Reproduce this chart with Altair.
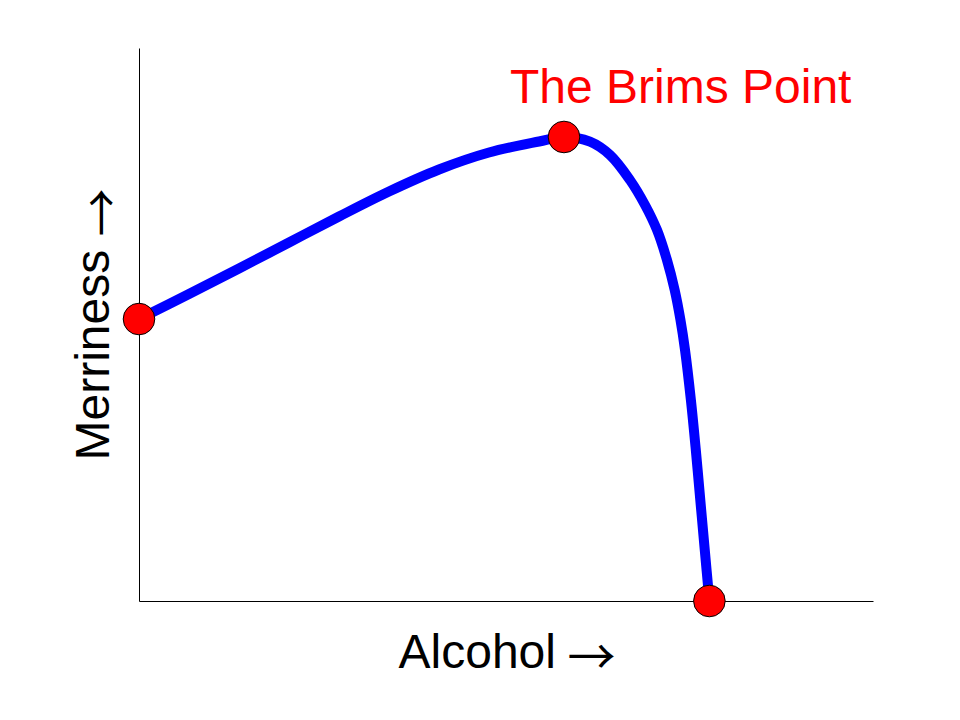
import altair as alt
import pandas as pd

# Curve
curve_x = [0, 6.81, 13.62, 20.44, 27.25, 34.06, 40.87, 47.68, 54.50, 57.90,
           61.44, 64.17, 66.89, 68.94, 70.57, 71.93, 72.98, 73.77, 74.39,
           75.19, 75.86, 76.47, 77.08, 77.71]
curve_y = [50.99, 55.52, 60.13, 64.83, 69.53, 74.05, 78.03, 81.10, 83.09, 83.91,
           83.06, 80.65, 76.13, 71.61, 67.09, 61.66, 56.24, 50.81, 45.39,
           36.35, 27.31, 18.26, 9.22, 0.0]

# Highlighted points
pt_x = [0, 57.90, 77.71]
pt_y = [50.99, 83.91, 0.0]
pt_label = ["", "The Brims Point", ""]

x_word, y_word, arrow = "Alcohol", "Merriness", "→"

curve = pd.DataFrame({"x": curve_x, "y": curve_y})
pts = pd.DataFrame({"x": pt_x, "y": pt_y, "label": pt_label})

FONT = "Liberation Sans, Arial, sans-serif"
AFONT = "Noto Sans CJK SC"
FS = 48

xs = alt.Scale(domain=[0, 100], nice=False, zero=False)
ys = alt.Scale(domain=[0, 100], nice=False, zero=False)

common = dict(ticks=False, labels=False, grid=False, titleFontSize=FS,
              titleFontWeight="normal", titleColor="black",
              titleBaseline="alphabetic")

x_axis = alt.Axis(title=x_word, orient="bottom", domainColor="black", domainWidth=1,
                  titleFont=FONT, titleAlign="left", titleX=259, titleY=66, **common)
y_axis = alt.Axis(title=y_word, orient="left", domainColor="black", domainWidth=1,
                  titleFont=FONT, titleAlign="left", titleAngle=270,
                  titleX=-31, titleY=412, **common)
x_axis_arrow = alt.Axis(title=arrow, orient="bottom", domain=False, titleFont=AFONT,
                        titleAlign="center", titleX=452, titleY=72, **common)
y_axis_arrow = alt.Axis(title=arrow, orient="left", domain=False, titleFont=AFONT,
                        titleAlign="center", titleAngle=270,
                        titleX=-21, titleY=164, **common)

line = alt.Chart(curve).mark_line(color="#0000ff", strokeWidth=10,
                                  interpolate="catmull-rom", strokeCap="round").encode(
    x=alt.X("x:Q", scale=xs, axis=x_axis),
    y=alt.Y("y:Q", scale=ys, axis=y_axis),
)

points = alt.Chart(pts).mark_point(filled=True, fill="#ff0000", stroke="black",
                                   strokeWidth=1, size=1000, opacity=1,
                                   shape="circle").encode(
    x=alt.X("x:Q", scale=xs, axis=x_axis_arrow),
    y=alt.Y("y:Q", scale=ys, axis=y_axis_arrow),
)

label = alt.Chart(pts).mark_text(color="#ff0000", fontSize=FS, font=FONT,
                                 align="left", baseline="alphabetic",
                                 dx=-54, dy=-34).encode(
    x=alt.X("x:Q", scale=xs, axis=None),
    y=alt.Y("y:Q", scale=ys, axis=None),
    text="label:N",
)

chart = alt.layer(line, points, label).resolve_axis(
    x="independent", y="independent"
).properties(
    width=734, height=553,
    autosize=alt.AutoSizeParams(type="none"),
    padding={"left": 131, "top": 40, "right": 60, "bottom": 100},
).configure_view(stroke=None)

chart.save("out.html", embed_options={"renderer": "svg", "actions": False})
